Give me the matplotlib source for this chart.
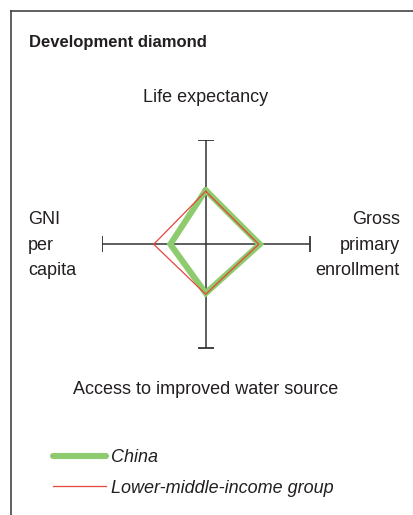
import numpy as np
import matplotlib.pyplot as plt
from matplotlib.lines import Line2D

plt.rcParams['font.family'] = ['Liberation Sans', 'DejaVu Sans']

# axes of the diamond, clockwise from top
axes_labels = ["Life expectancy", "Gross\nprimary\nenrollment",
               "Access to improved water source", "GNI\nper\ncapita"]
# values relative to the axis length (0..1)
china = [0.52, 0.52, 0.47, 0.34]
lmi_group = [0.51, 0.51, 0.48, 0.50]
series_names = ["China", "Lower-middle-income group"]

W, H = 413, 515
fig = plt.figure(figsize=(W / 100, H / 100), dpi=100)

# frame (only top and left visible)
fig.add_artist(Line2D([11 / W, 11 / W], [1 - 11 / H, 0], color='#444444', lw=1.2))
fig.add_artist(Line2D([11 / W, 1], [1 - 11 / H, 1 - 11 / H], color='#444444', lw=1.2))

fig.text(29 / W, 1 - 42 / H, "Development diamond", fontsize=12, fontweight='bold',
         color='#231f20', va='center', ha='left')

# diamond axes
cx, cy, r = 205.7, 244.3, 104
ax = fig.add_axes([(cx - r) / W, 1 - (cy + r) / H, 2 * r / W, 2 * r / H])
ax.set_xlim(-1, 1)
ax.set_ylim(-1, 1)
ax.axis('off')

ax.plot([-1, 1], [0, 0], color='#333333', lw=1.1)
ax.plot([0, 0], [-1, 1], color='#333333', lw=1.1)
ax.plot([-1, 1], [0, 0], ls='none', marker='|', ms=12, mew=1.3, color='#333333')
ax.plot([0, 0], [-1, 1], ls='none', marker='_', ms=12, mew=1.3, color='#333333')

angles = np.deg2rad([90, 0, -90, 180])


def to_xy(vals):
    v = np.array(vals + vals[:1])
    a = np.concatenate([angles, angles[:1]])
    return v * np.cos(a), v * np.sin(a)


x, y = to_xy(china)
l1, = ax.plot(x, y, color='#8dcb6e', lw=4.4, solid_joinstyle='miter',
              solid_capstyle='round', zorder=3)
x, y = to_xy(lmi_group)
l2, = ax.plot(x, y, color='#e8453c', lw=0.9, zorder=4)

txt = dict(fontsize=13, color='#231f20')
fig.text(cx / W, 1 - 98 / H, axes_labels[0], ha='center', va='center', **txt)
fig.text(400 / W, 1 - 245 / H, axes_labels[1], ha='right', va='center',
         multialignment='right', linespacing=1.65, **txt)
fig.text(cx / W, 1 - 390 / H, axes_labels[2], ha='center', va='center', **txt)
fig.text(28 / W, 1 - 245 / H, axes_labels[3], ha='left', va='center',
         multialignment='left', linespacing=1.65, **txt)

leg = fig.legend([l1, l2], series_names, loc='upper left',
                 bbox_to_anchor=(37 / W, 1 - 433 / H), frameon=False,
                 handlelength=2.9, handletextpad=0.3, labelspacing=0.75,
                 prop={'size': 13, 'style': 'italic'})
for t in leg.get_texts():
    t.set_color('#231f20')

fig.savefig("out.png", dpi=100)
